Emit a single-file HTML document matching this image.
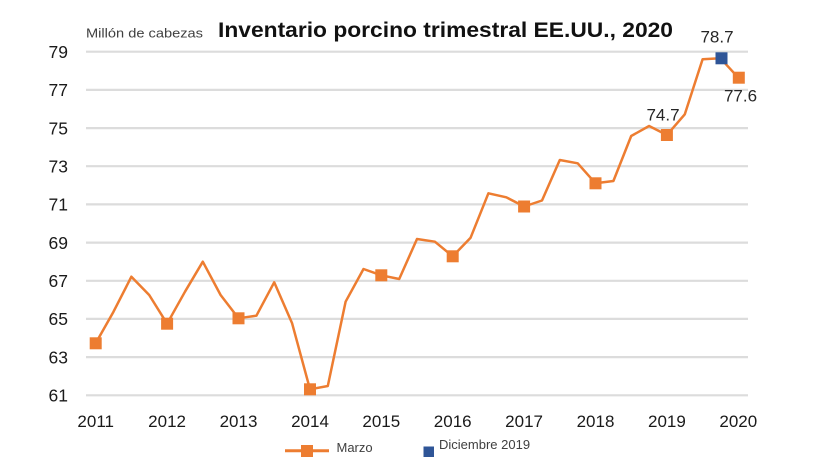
<!DOCTYPE html>
<html>
<head>
<meta charset="utf-8">
<style>
  html,body{margin:0;padding:0;background:#fff;}
  svg{display:block;}
  text{font-family:"Liberation Sans",Arial,sans-serif;}
</style>
</head>
<body>
<svg width="820" height="461" viewBox="0 0 820 461" xmlns="http://www.w3.org/2000/svg">
  <rect width="820" height="461" fill="#fff"/>
  <!-- gridlines -->
  <g stroke="#dcdcdc" stroke-width="2.2">
    <line x1="86" y1="51.7" x2="748" y2="51.7"/>
    <line x1="86" y1="89.9" x2="748" y2="89.9"/>
    <line x1="86" y1="128.1" x2="748" y2="128.1"/>
    <line x1="86" y1="166.2" x2="748" y2="166.2"/>
    <line x1="86" y1="204.4" x2="748" y2="204.4"/>
    <line x1="86" y1="242.6" x2="748" y2="242.6"/>
    <line x1="86" y1="280.8" x2="748" y2="280.8"/>
    <line x1="86" y1="318.9" x2="748" y2="318.9"/>
    <line x1="86" y1="357.1" x2="748" y2="357.1"/>
    <line x1="86" y1="395.3" x2="748" y2="395.3"/>
  </g>
  <!-- y labels -->
  <g font-size="17.5" fill="#1a1a1a" text-anchor="end">
    <text x="68" y="58">79</text>
    <text x="68" y="96.2">77</text>
    <text x="68" y="134.4">75</text>
    <text x="68" y="172.5">73</text>
    <text x="68" y="210.7">71</text>
    <text x="68" y="248.9">69</text>
    <text x="68" y="287.1">67</text>
    <text x="68" y="325.2">65</text>
    <text x="68" y="363.4">63</text>
    <text x="68" y="401.6">61</text>
  </g>
  <!-- x labels -->
  <g font-size="17" fill="#1a1a1a" text-anchor="middle">
    <text x="95.7" y="427">2011</text>
    <text x="167.1" y="427">2012</text>
    <text x="238.5" y="427">2013</text>
    <text x="310" y="427">2014</text>
    <text x="381.3" y="427">2015</text>
    <text x="452.7" y="427">2016</text>
    <text x="524.1" y="427">2017</text>
    <text x="595.5" y="427">2018</text>
    <text x="666.9" y="427">2019</text>
    <text x="738.3" y="427">2020</text>
  </g>
  <!-- title -->
  <text x="86" y="37.5" font-size="13" fill="#404040" textLength="117" lengthAdjust="spacingAndGlyphs">Millón de cabezas</text>
  <text x="218" y="37" font-size="21" font-weight="bold" fill="#111" textLength="455" lengthAdjust="spacingAndGlyphs">Inventario porcino trimestral EE.UU., 2020</text>
  <!-- series line -->
  <polyline fill="none" stroke="#ED7D31" stroke-width="2.5" stroke-linejoin="round"
    points="95.7,343.3 113.5,311.7 131.4,276.7 149.2,295 167.1,323.7 185,291.7 202.8,261.7 220.6,295 238.5,318.3 256.4,315.7 274.2,282.3 292.1,323.3 310,389.3 327.8,386 345.6,301.7 363.5,269 381.3,275.3 399.2,279 417,239 434.9,241.7 452.7,256.3 470.6,237.7 488.4,193.3 506.3,197.3 524.1,206.5 542,200.5 559.8,160 577.7,163.3 595.5,183.3 613.4,181 631.2,136 649.1,126 666.9,135 684.8,114.3 702.6,59.3 720.5,58.3 738.3,77.7"/>
  <!-- markers -->
  <g fill="#ED7D31">
    <rect x="89.7" y="337.3" width="12" height="12"/>
    <rect x="161.1" y="317.7" width="12" height="12"/>
    <rect x="232.5" y="312.3" width="12" height="12"/>
    <rect x="304" y="383.3" width="12" height="12"/>
    <rect x="375.3" y="269.3" width="12" height="12"/>
    <rect x="446.7" y="250.3" width="12" height="12"/>
    <rect x="518.1" y="200.5" width="12" height="12"/>
    <rect x="589.5" y="177.3" width="12" height="12"/>
    <rect x="660.9" y="129" width="12" height="12"/>
    <rect x="732.8" y="71.7" width="12" height="12"/>
  </g>
  <rect x="715.5" y="52.3" width="12" height="12" fill="#2F5597"/>
  <!-- data labels -->
  <g font-size="17" fill="#262626" text-anchor="middle">
    <text x="717" y="42.5">78.7</text>
    <text x="740.5" y="101.5">77.6</text>
    <text x="663" y="120.5">74.7</text>
  </g>
  <!-- legend -->
  <line x1="285" y1="450.7" x2="329" y2="450.7" stroke="#ED7D31" stroke-width="3"/>
  <rect x="301" y="445" width="12" height="12" fill="#ED7D31"/>
  <text x="336.5" y="452" font-size="13" fill="#404040">Marzo</text>
  <rect x="423.5" y="446.5" width="10.5" height="10.5" fill="#2F5597"/>
  <text x="439" y="449" font-size="13" fill="#404040">Diciembre 2019</text>
</svg>
</body>
</html>
